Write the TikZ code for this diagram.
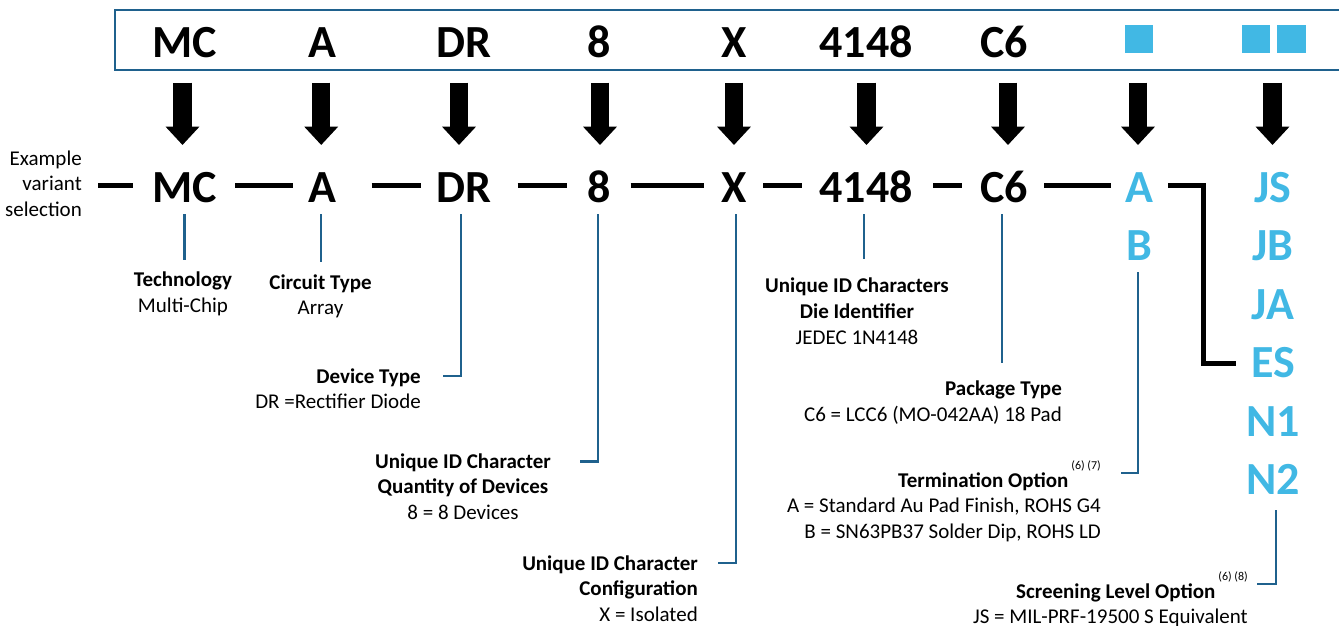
\documentclass[tikz,border=0pt]{standalone}
\usepackage{fontspec}
\setmainfont{Carlito}
\usetikzlibrary{arrows.meta}
\definecolor{darkblue}{RGB}{31,97,141}
\definecolor{lightblue}{RGB}{65,184,228}
\newcommand\fnref[1]{\hspace{3pt}\smash{\raisebox{18pt}{\fontsize{12}{12}\selectfont #1}}}
\tikzset{
  big/.style={font=\fontsize{46}{50}\selectfont\bfseries, inner sep=0pt, anchor=base},
  bigblue/.style={big, text=lightblue},
  bigarrow/.style={line width=18.3pt, -{Triangle[width=32.7pt,length=18.3pt]}},
  sep/.style={line width=5pt},
  leader/.style={line width=2.2pt, darkblue},
  lbl/.style={font=\fontsize{21}{25.6}\selectfont, inner sep=0pt},
  sq/.style={fill=lightblue, draw=none}
}
\begin{document}
\begin{tikzpicture}[x=1pt,y=-1pt]
\useasboundingbox (0,0) rectangle (1339,625);
\clip (0,0) rectangle (1339,625);
% top box
\draw[darkblue, line width=2.4pt] (115,10) rectangle (1360,70);
\node[big] (t1) at (184.5,57) {MC};
\node[big] (t2) at (322,57) {A};
\node[big] (t3) at (464,57) {DR};
\node[big] (t4) at (599,57) {8};
\node[big] (t5) at (734,57) {X};
\node[big] (t6) at (866,57) {4148};
\node[big] (t7) at (1004,57) {C6};
\fill[sq] (1125,25) rectangle (1153.3,53.3);
\fill[sq] (1241.7,25) rectangle (1270,53.3);
\fill[sq] (1277.3,25) rectangle (1306,53.3);
% big arrows
\foreach \x in {182.5,321.2,459,600,734,866.5,1008,1138,1272.5}
  \draw[bigarrow] (\x,82.7) -- (\x,145);
% bottom row
\node[big] (b1) at (184.5,202) {MC};
\node[big] (b2) at (322,202) {A};
\node[big] (b3) at (464,202) {DR};
\node[big] (b4) at (599,202) {8};
\node[big] (b5) at (734,202) {X};
\node[big] (b6) at (866,202) {4148};
\node[big] (b7) at (1004,202) {C6};
\node[bigblue] (ba) at (1139,202) {A};
\node[bigblue] (bb) at (1139,260.5) {B};
\node[bigblue] (js) at (1273,202) {JS};
\node[bigblue] (jb) at (1273,260.5) {JB};
\node[bigblue] (ja) at (1273,319) {JA};
\node[bigblue] (es) at (1273,377.5) {ES};
\node[bigblue] (n1) at (1273,436) {N1};
\node[bigblue] (n2) at (1273,494.5) {N2};
% separators
\draw[sep] (98.3,185.5) -- (132.7,185.5);
\draw[sep] (235,185.5) -- (293.3,185.5);
\draw[sep] (371.7,185.5) -- (420.7,185.5);
\draw[sep] (517.7,185.5) -- (566.7,185.5);
\draw[sep] (630.7,185.5) -- (704,185.5);
\draw[sep] (763.3,185.5) -- (801.7,185.5);
\draw[sep] (933.3,185.5) -- (961.7,185.5);
\draw[sep] (1044.3,185.5) -- (1111,185.5);
\draw[sep] (1168.3,185.5) -- (1203,185.5) -- (1203,363) -- (1236,363);
% labels (anchored at the baseline of the last line)
\node[lbl, anchor=base east, align=right] (ex) at (82,216.2) {Example\\variant\\selection};
\node[lbl, anchor=base, align=center] (l1) at (183,312.1) {\textbf{Technology}\\Multi-Chip};
\node[lbl, anchor=base, align=center] (l2) at (320.5,314.6) {\textbf{Circuit Type}\\Array};
\node[lbl, anchor=base east, align=right] (l3) at (421,408.6) {\textbf{Device Type}\\DR =Rectifier Diode};
\node[lbl, anchor=base, align=center] (l4) at (463,519.2) {\textbf{Unique ID Character}\\\textbf{Quantity of Devices}\\8 = 8 Devices};
\node[lbl, anchor=base east, align=right] (l5) at (698,621.2) {\textbf{Unique ID Character}\\\textbf{Configuration}\\X = Isolated};
\node[lbl, anchor=base, align=center] (l6) at (857,344) {\textbf{Unique ID Characters}\\\textbf{Die Identifier}\\JEDEC 1N4148};
\node[lbl, anchor=base east, align=right] (l7) at (1062,421) {\textbf{Package Type}\\C6 = LCC6 (MO-042AA) 18 Pad};
\node[lbl, anchor=base east, align=right] (l8) at (1101,538.2) {\textbf{Termination Option}\fnref{(6) (7)}\\A = Standard Au Pad Finish, ROHS G4\\B = SN63PB37 Solder Dip, ROHS LD};
\node[lbl, anchor=base east, align=right] (l9) at (1248,623.6) {\textbf{Screening Level Option}\fnref{(6) (8)}\\JS = MIL-PRF-19500 S Equivalent};
% leaders
\draw[leader] (184.5,214) -- (184.5,260);
\draw[leader] (321,214) -- (321,262);
\draw[leader] (461,214) -- (461,376) -- (443,376);
\draw[leader] (598,214) -- (598,461.5) -- (580,461.5);
\draw[leader] (736,214) -- (736,563) -- (718,563);
\draw[leader] (864,214) -- (864,259);
\draw[leader] (1002,214) -- (1002,363);
\draw[leader] (1138,272) -- (1138,473) -- (1121,473);
\draw[leader] (1276,510) -- (1276,584) -- (1257,584);
\end{tikzpicture}
\end{document}
